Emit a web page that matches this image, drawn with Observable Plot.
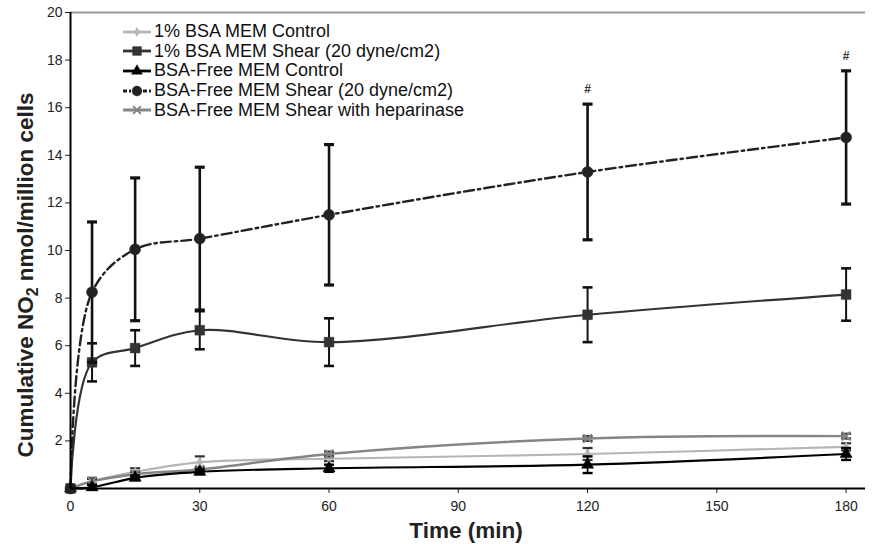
<!DOCTYPE html>
<html><head><meta charset="utf-8">
<script src="https://cdn.jsdelivr.net/npm/d3@7"></script>
<script src="https://cdn.jsdelivr.net/npm/@observablehq/plot@0.6"></script>
<style>
body{margin:0;background:#fff;font-family:"Liberation Sans",Arial,sans-serif}
#wrap{position:relative;width:878px;height:544px}
#legend{position:absolute;left:122px;top:22px;font-size:18px;color:#111}
#legend .row{display:flex;align-items:center;height:19.6px;white-space:nowrap}
#legend svg{margin-right:2px}
</style></head>
<body><div id="wrap"><div id="legend"></div></div>
<script>
// ---- data ----
const times = [0, 5, 15, 30, 60, 120, 180];
const seriesNames = [
  "1% BSA MEM Control",
  "1% BSA MEM Shear (20 dyne/cm2)",
  "BSA-Free MEM Control",
  "BSA-Free MEM Shear (20 dyne/cm2)",
  "BSA-Free MEM Shear with heparinase"
];
const bsaControl      = [0, 0.30, 0.70, 1.10, 1.25, 1.45, 1.75];
const bsaControlErr   = [0, 0.15, 0.15, 0.25, 0.10, 0.25, 0.15];
const bsaShear        = [0, 5.30, 5.90, 6.65, 6.15, 7.30, 8.15];
const bsaShearErr     = [0, 0.80, 0.75, 0.80, 1.00, 1.15, 1.10];
const freeControl     = [0, 0.05, 0.45, 0.70, 0.85, 1.00, 1.45];
const freeControlErr  = [0, 0.10, 0.10, 0.10, 0.15, 0.35, 0.25];
const freeShear       = [0, 8.25, 10.05, 10.50, 11.50, 13.30, 14.75];
const freeShearErr    = [0, 2.95, 3.00, 3.00, 2.95, 2.85, 2.80];
const heparinase      = [0, 0.30, 0.60, 0.80, 1.45, 2.10, 2.20];
const heparinaseErr   = [0, 0.10, 0.10, 0.10, 0.10, 0.10, 0.10];
const xTicks = [0, 30, 60, 90, 120, 150, 180];
const yTicks = [2, 4, 6, 8, 10, 12, 14, 16, 18, 20];
const sigTimes = [120, 180];
const sigLabel = "#";

// ---- build ----
const valuesList = [bsaControl, bsaShear, freeControl, freeShear, heparinase];
const errList = [bsaControlErr, bsaShearErr, freeControlErr, freeShearErr, heparinaseErr];
const styles = [
  {stroke:"#b5b5b5", width:2.2, dash:null, symbol:"diamond", r:3, fill:"#b5b5b5", ebar:"#333", ebw:1.6},
  {stroke:"#333", width:2.2, dash:null, symbol:"square", r:5.5, fill:"#333", ebar:"#111", ebw:2},
  {stroke:"#000", width:2.2, dash:null, symbol:"triangle", r:4.5, fill:"#000", ebar:"#000", ebw:1.8},
  {stroke:"#222", width:2.4, dash:"10,4,2.5,4", symbol:"circle", r:5.5, fill:"#222", ebar:"#111", ebw:2.6},
  {stroke:"#858585", width:2.4, dash:null, symbol:"times", r:4, fill:"none", ebar:"#333", ebw:1.6}
];
const rows = [];
seriesNames.forEach((s, i) => times.forEach((t, j) => rows.push({s, i, t, v: valuesList[i][j], e: errList[i][j]})));

const cap = {draw(ctx, size){ const w = Math.sqrt(size / Math.PI); ctx.moveTo(-w, 0); ctx.lineTo(w, 0); }};

const marks = [
  Plot.ruleY([20], {stroke:"#999", strokeWidth:2}),
];
const order = [0, 4, 2, 1, 3];
order.forEach(i => {
  const st = styles[i];
  const d = rows.filter(r => r.i === i);
  const de = d.filter(r => r.e > 0);
  marks.push(Plot.line(d, {x:"t", y:"v", stroke:st.stroke, strokeWidth:st.width, strokeDasharray:st.dash, curve:"catmull-rom"}));
  marks.push(Plot.ruleX(de, {x:"t", y1:r => r.v - r.e, y2:r => r.v + r.e, stroke:st.ebar, strokeWidth:st.ebw}));
  marks.push(Plot.dot(de, {x:"t", y:r => r.v + r.e, symbol:cap, r:5, stroke:st.ebar, strokeWidth:st.ebw + 0.6}));
  marks.push(Plot.dot(de, {x:"t", y:r => r.v - r.e, symbol:cap, r:5, stroke:st.ebar, strokeWidth:st.ebw + 0.6}));
  if (st.fill === "none")
    marks.push(Plot.dot(d, {x:"t", y:"v", symbol:st.symbol, r:st.r, stroke:st.stroke, strokeWidth:2}));
  else
    marks.push(Plot.dot(d, {x:"t", y:"v", symbol:st.symbol, r:st.r, fill:st.fill, stroke:st.fill, strokeWidth:0.5}));
});
// significance markers
const sigRows = rows.filter(r => r.i === 3 && sigTimes.includes(r.t));
marks.push(Plot.text(sigRows, {x:"t", y:r => r.v + r.e, text:() => sigLabel, dy:-15, fontSize:12, fontWeight:"bold", fill:"#333"}));
// axis lines
marks.push(Plot.ruleX([0], {stroke:"#000", strokeWidth:2}));
marks.push(Plot.ruleY([0], {stroke:"#000", strokeWidth:2}));

const chart = Plot.plot({
  width: 878, height: 544,
  marginLeft: 70, marginRight: 13, marginTop: 12, marginBottom: 56,
  style: {fontFamily:"Liberation Sans, Arial, sans-serif", fontSize:"14px", color:"#222", background:"#fff"},
  x: {domain:[0, 184.5], ticks: xTicks, tickSize:5, label:null, tickPadding:8},
  y: {domain:[0, 20], ticks: yTicks, tickSize:5, label:null, tickPadding:3},
  marks
});
document.getElementById("wrap").appendChild(chart);

// axis titles
const svg = d3.select(chart);
const yl = svg.append("text")
  .attr("transform", "translate(33,275) rotate(-90)")
  .attr("text-anchor", "middle")
  .style("font-size", "22.5px").style("font-weight", "bold").style("fill", "#222");
yl.append("tspan").text("Cumulative NO");
yl.append("tspan").text("2").style("font-size", "16px").attr("dy", 5);
yl.append("tspan").text(" nmol/million cells").attr("dy", -5);
svg.append("text").attr("x", 466).attr("y", 538).attr("text-anchor", "middle")
  .style("font-size", "22.5px").style("font-weight", "bold").style("fill", "#222").text("Time (min)");

// legend
const legend = d3.select("#legend");
seriesNames.forEach((name, i) => {
  const st = styles[i];
  const row = legend.append("div").attr("class", "row");
  const s = row.append("svg").attr("width", 30).attr("height", 14);
  s.append("line").attr("x1", 1).attr("x2", 29).attr("y1", 7).attr("y2", 7)
    .attr("stroke", st.stroke).attr("stroke-width", st.width + 0.6)
    .attr("stroke-dasharray", st.dash ? "4,2,2,2" : null);
  const sym = {diamond:d3.symbolDiamond, square:d3.symbolSquare, triangle:d3.symbolTriangle, circle:d3.symbolCircle, times:d3.symbolTimes}[st.symbol];
  s.append("path").attr("d", d3.symbol(sym, Math.PI * st.r * st.r * 0.8)()).attr("transform", "translate(15,7)")
    .attr("fill", st.fill === "none" ? "none" : st.fill).attr("stroke", st.stroke).attr("stroke-width", st.fill === "none" ? 2 : 0.5);
  row.append("span").text(name);
});
</script>
</body></html>
